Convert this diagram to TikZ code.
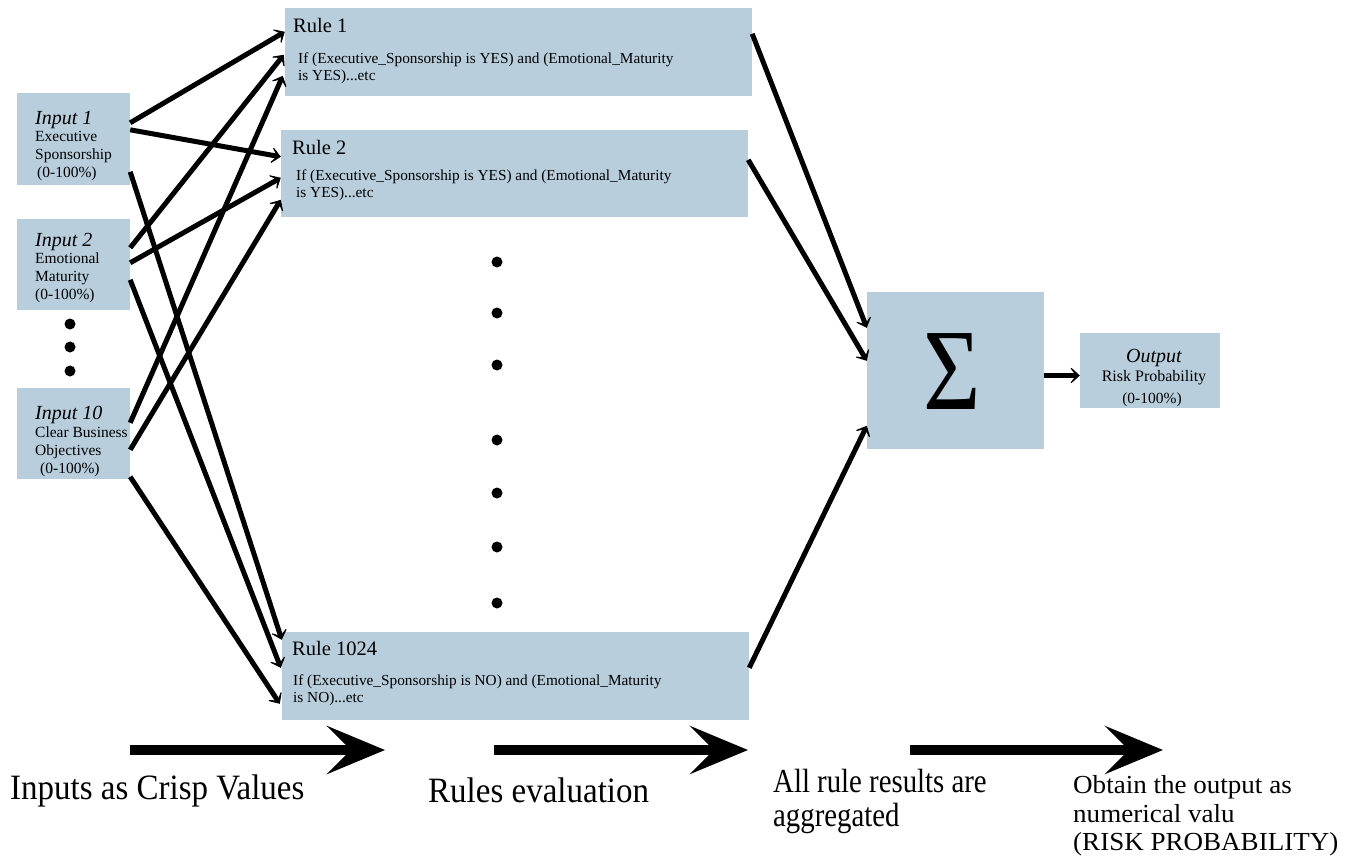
\documentclass[tikz,border=0pt]{standalone}
\usepackage{fontspec}
\setmainfont{Liberation Serif}
\usetikzlibrary{arrows.meta,calc}
\definecolor{boxblue}{RGB}{184,206,220}
\begin{document}
\begin{tikzpicture}[x=1pt,y=-1pt,
  inbox/.style={fill=boxblue, draw=none, inner sep=0pt, minimum width=113pt},
  rulebox/.style={fill=boxblue, draw=none, inner sep=0pt, minimum width=467pt, minimum height=88pt},
  conn/.style={line width=5pt, -{Stealth[length=12pt,width=22pt,inset=8pt]}},
  bigarrow/.style={line width=9.5pt, -{Stealth[length=58pt,width=48pt,inset=24pt]}},
  intitle/.style={anchor=base west, inner sep=0pt, font=\fontsize{20}{22}\selectfont\itshape},
  intext/.style={anchor=base west, inner sep=0pt, font=\fontsize{15.5}{17}\selectfont},
  ruletitle/.style={anchor=base west, inner sep=0pt, font=\fontsize{20.5}{22}\selectfont},
  ruletext/.style={anchor=base west, inner sep=0pt, font=\fontsize{15.3}{16}\selectfont},
  steptext/.style={anchor=base west, inner sep=0pt},
  dot/.style={fill=black}
]
\useasboundingbox (0,0) rectangle (1355,856);

% input boxes
\node[inbox, minimum height=92pt] (in1) at (73.5,139) {};
\node[inbox, minimum height=91pt] (in2) at (73.5,264.5) {};
\node[inbox, minimum height=91pt] (in10) at (73.5,433.5) {};

\node[intitle] (t1a) at (35,125) {Input 1};
\node[intext] (t1b) at (35,142) {Executive};
\node[intext] (t1c) at (35,160) {Sponsorship};
\node[intext] (t1d) at (37,178) {(0-100\%)};

\node[intitle] (t2a) at (35,246) {Input 2};
\node[intext] (t2b) at (35,263) {Emotional};
\node[intext] (t2c) at (35,281) {Maturity};
\node[intext] (t2d) at (35,299) {(0-100\%)};

\node[intitle] (t3a) at (35,419) {Input 10};
\node[intext] (t3b) at (35,437) {Clear Business};
\node[intext] (t3c) at (35,455) {Objectives};
\node[intext] (t3d) at (40,473) {(0-100\%)};

\fill[dot] (70,324) circle[radius=5.5pt];
\fill[dot] (70,347) circle[radius=5.5pt];
\fill[dot] (70,371) circle[radius=5.5pt];

% rule boxes
\node[rulebox] (r1) at (518.5,52) {};
\node[rulebox, minimum height=87pt] (r2) at (514.5,173.5) {};
\node[rulebox] (r3) at (515.5,676) {};

\node[ruletitle] (r1a) at (293,33) {Rule 1};
\node[ruletext] (r1b) at (298,64) {If (Executive\_Sponsorship is YES) and (Emotional\_Maturity};
\node[ruletext] (r1c) at (298,81) {is YES)...etc};

\node[ruletitle] (r2a) at (292,155) {Rule 2};
\node[ruletext] (r2b) at (296,180) {If (Executive\_Sponsorship is YES) and (Emotional\_Maturity};
\node[ruletext] (r2c) at (296,197) {is YES)...etc};

\node[ruletitle] (r3a) at (292,655) {Rule 1024};
\node[ruletext] (r3b) at (293,685) {If (Executive\_Sponsorship is NO) and (Emotional\_Maturity};
\node[ruletext] (r3c) at (293,702) {is NO)...etc};

\foreach \yy in {262,313,365,440,493,547,603}
  \fill[dot] (497,\yy) circle[radius=5.5pt];

% sigma and output
\node[fill=boxblue, inner sep=0pt, minimum width=177pt, minimum height=157pt] (sig) at (955.5,370.5) {};
\node[inner sep=0pt] (sigsym) at (952,372) {\scalebox{0.85}[1]{\fontsize{116}{116}\selectfont Σ}};
\node[fill=boxblue, inner sep=0pt, minimum width=140pt, minimum height=75pt] (out) at (1150,370.5) {};
\node[anchor=base, inner sep=0pt, font=\fontsize{20}{22}\selectfont\itshape] (o1) at (1154,362) {Output};
\node[anchor=base, inner sep=0pt, font=\fontsize{16}{18}\selectfont] (o2) at (1154,381) {Risk Probability};
\node[anchor=base, inner sep=0pt, font=\fontsize{15.5}{17}\selectfont] (o3) at (1152,403) {(0-100\%)};

% connectors inputs -> rules
\draw[conn] ($(in1.north east)+(0,30)$) -- ($(r1.north west)+(0,24)$);
\draw[conn] ($(in1.north east)+(0,37)$) -- ($(r2.north west)+(0,27)$);
\draw[conn] ($(in1.north east)+(0,79)$) -- ($(r3.north west)+(0,8)$);

\draw[conn] ($(in2.north east)+(0,29)$) -- ($(r1.north west)+(-1,47)$);
\draw[conn] ($(in2.north east)+(0,44)$) -- ($(r2.north west)+(0,48)$);
\draw[conn] ($(in2.north east)+(0,61)$) -- ($(r3.north west)+(-1,36)$);

\draw[conn] ($(in10.north east)+(0,35)$) -- ($(r1.north west)+(-2,68)$);
\draw[conn] ($(in10.north east)+(0,62)$) -- ($(r2.north west)+(0,70)$);
\draw[conn] ($(in10.north east)+(0,89)$) -- ($(r3.north west)+(-2,72)$);

% rules -> sigma
\draw[conn] ($(r1.north east)+(0,26)$) -- ($(sig.north west)+(0,36)$);
\draw[conn] ($(r2.north east)+(0,30)$) -- ($(sig.north west)+(0,69)$);
\draw[conn] ($(r3.north east)+(0,36)$) -- ($(sig.north west)+(0,134)$);
\draw[conn, line width=5.5pt] ($(sig.east)+(0,5)$) -- ($(out.west)+(0,5)$);

% bottom process arrows
\coordinate (b1s) at (130,750);
\coordinate (b1e) at (385,750);
\coordinate (b2s) at (494,750);
\coordinate (b2e) at (748,750);
\coordinate (b3s) at (910,750);
\coordinate (b3e) at (1163,750);
\draw[bigarrow] (b1s) -- (b1e);
\draw[bigarrow] (b2s) -- (b2e);
\draw[bigarrow] (b3s) -- (b3e);

\node[steptext, font=\fontsize{33}{36}\selectfont] (s1) at (10,799) {\scalebox{1.0}[1.08]{Inputs as Crisp Values}};
\node[steptext, font=\fontsize{33}{36}\selectfont] (s2) at (428,802) {\scalebox{1.0}[1.08]{Rules evaluation}};
\node[steptext, font=\fontsize{32}{36}\selectfont] (s3a) at (773,792) {\scalebox{0.9}[1.05]{All rule results are}};
\node[steptext, font=\fontsize{32}{36}\selectfont] (s3b) at (773,826) {\scalebox{0.9}[1.05]{aggregated}};
\node[steptext, font=\fontsize{26}{30}\selectfont] (s4a) at (1073,793) {\scalebox{1.04}[1]{Obtain the output as}};
\node[steptext, font=\fontsize{26}{30}\selectfont] (s4b) at (1073,822) {\scalebox{1.04}[1]{numerical valu}};
\node[steptext, font=\fontsize{26}{30}\selectfont] (s4c) at (1073,850) {\scalebox{1.04}[1]{(RISK PROBABILITY)}};
\end{tikzpicture}
\end{document}
